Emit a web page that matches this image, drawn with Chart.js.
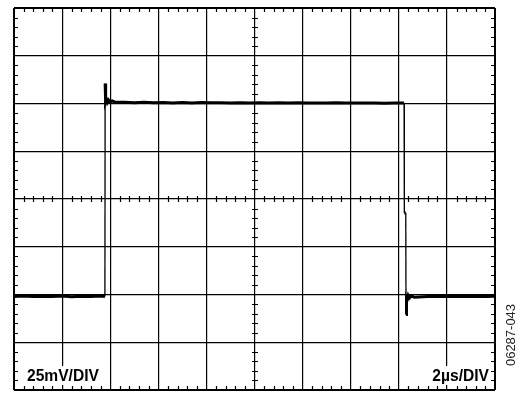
<!DOCTYPE html>
<html lang="en">
<head>
<meta charset="UTF-8">
<title>Scope capture</title>
<script src="https://cdn.jsdelivr.net/npm/chart.js@4.4.1/dist/chart.umd.min.js"></script>
<style>
    body { margin: 0; background: #fff; }
    #scope { display: block; }
</style>
</head>
<body>
<canvas id="scope" width="522" height="393"></canvas>
<script>
    // scope trace: time in µs, level in mV (2µs/DIV, 25mV/DIV)
    const timeUs = [
        0, 0.4, 0.8, 1.2, 1.6, 2.0, 2.4, 2.8, 3.2, 3.6, 3.78,
        3.79, 3.81, 3.84, 3.88, 3.93, 3.99, 4.08, 4.2,
        4.6, 5.0, 5.4, 5.8, 6.2, 6.6, 7.0, 7.4, 7.8, 8.2,
        8.6, 9.0, 9.4, 9.8, 10.2, 10.6, 11.0, 11.4, 11.8, 12.2,
        12.6, 13.0, 13.4, 13.8, 14.2, 14.6, 15.0, 15.4, 15.8, 16.1, 16.22,
        16.23, 16.29, 16.30, 16.32, 16.35, 16.39, 16.44, 16.52, 16.65,
        17.2, 17.6, 18.0, 18.4, 18.8, 19.2, 19.6, 20
    ];
    const levelMv = [
        -51, -50.8, -51.1, -50.9, -51.1, -50.8, -51.2, -50.9, -51.1, -50.8, -51.0,
        60.5, 51.2, 52.4, 50.6, 51.8, 50.8, 51.4, 50.7,
        50.6, 50.4, 50.6, 50.4, 50.5, 50.3, 50.5, 50.3, 50.5, 50.4,
        50.4, 50.2, 50.4, 50.3, 50.4, 50.2, 50.4, 50.3, 50.4, 50.2,
        50.3, 50.2, 50.4, 50.2, 50.3, 50.2, 50.3, 50.1, 50.3, 50.2, 50.2,
        -7.3, -7.3, -60.5, -51.8, -52.6, -50.6, -51.9, -50.8, -51.4,
        -51.1, -50.9, -51.1, -50.9, -51.0, -50.9, -51.1, -50.9
    ];
    const xRange = [0, 20];      // 10 divisions
    const yRange = [-100, 100];  // 8 divisions
    const xMajor = 2, yMajor = 25;
    const minorPerDiv = 5;
    const scaleLabels = ["25mV/DIV", "2µs/DIV"];
    const figureId = "06287-043";

    const points = timeUs.map((t, i) => ({ x: t, y: levelMv[i] }));

    const edgeWidth = (value, range) => (value === range[0] || value === range[1]) ? 2 : 1.2;

    const scopeMarks = {
        id: 'scopeMarks',
        afterDatasetsDraw(chart) {
            const { ctx, chartArea: a, scales: { x, y } } = chart;
            ctx.save();
            // white patches behind the scale labels
            ctx.fillStyle = '#fff';
            ctx.fillRect(a.left + 8, a.bottom - 24, 82, 19);
            ctx.fillRect(a.right - 76, a.bottom - 24, 72, 19);

            // minor graticule ticks
            ctx.strokeStyle = '#000';
            ctx.lineWidth = 1.2;
            ctx.beginPath();
            const x0 = Math.round(x.getPixelForValue((xRange[0] + xRange[1]) / 2));
            const y0 = Math.round(y.getPixelForValue(0));
            const xStep = xMajor / minorPerDiv, yStep = yMajor / minorPerDiv;
            const nx = Math.round((xRange[1] - xRange[0]) / xStep);
            for (let i = 1; i < nx; i++) {
                if (i % minorPerDiv === 0) continue;
                const px = Math.round(x.getPixelForValue(xRange[0] + i * xStep)) + 0.5;
                ctx.moveTo(px, a.top); ctx.lineTo(px, a.top + 4);
                ctx.moveTo(px, a.bottom); ctx.lineTo(px, a.bottom - 4);
                ctx.moveTo(px, y0 - 3); ctx.lineTo(px, y0 + 3);
            }
            const ny = Math.round((yRange[1] - yRange[0]) / yStep);
            for (let i = 1; i < ny; i++) {
                if (i % minorPerDiv === 0) continue;
                const py = Math.round(y.getPixelForValue(yRange[0] + i * yStep)) + 0.5;
                ctx.moveTo(a.left, py); ctx.lineTo(a.left + 4, py);
                ctx.moveTo(a.right, py); ctx.lineTo(a.right - 4, py);
                ctx.moveTo(x0 - 3, py); ctx.lineTo(x0 + 3, py);
            }
            ctx.stroke();

            // scale labels
            ctx.fillStyle = '#000';
            ctx.font = 'bold 15.6px "Liberation Sans", Arial, sans-serif';
            ctx.textBaseline = 'alphabetic';
            ctx.textAlign = 'left';
            ctx.fillText(scaleLabels[0], a.left + 13, a.bottom - 9);
            ctx.textAlign = 'right';
            ctx.fillText(scaleLabels[1], a.right - 6, a.bottom - 9);

            // figure id, rotated
            ctx.translate(chart.width - 11, a.bottom - 55);
            ctx.rotate(-Math.PI / 2);
            ctx.textAlign = 'center';
            ctx.textBaseline = 'middle';
            ctx.font = '13px "Liberation Sans", Arial, sans-serif';
            ctx.fillStyle = '#222';
            ctx.fillText(figureId, 0, 0);
            ctx.restore();
        }
    };

    const chart = new Chart(document.getElementById('scope').getContext('2d'), {
        type: 'line',
        data: {
            datasets: [{
                data: points,
                borderColor: '#000',
                borderWidth: 3,
                pointRadius: 0,
                tension: 0,
                segment: {
                    borderWidth: c => Math.abs(c.p1.parsed.y - c.p0.parsed.y) > 20 ? 1.3 : 3
                }
            }]
        },
        options: {
            responsive: false,
            animation: false,
            layout: { padding: { left: 14, top: 8, right: 27, bottom: 3 } },
            plugins: { legend: { display: false }, tooltip: { enabled: false } },
            scales: {
                x: {
                    type: 'linear', min: xRange[0], max: xRange[1],
                    ticks: { display: false, stepSize: xMajor },
                    grid: { color: '#000', drawTicks: false, lineWidth: c => edgeWidth(c.tick && c.tick.value, xRange) },
                    border: { display: false }
                },
                y: {
                    type: 'linear', min: yRange[0], max: yRange[1],
                    ticks: { display: false, stepSize: yMajor },
                    grid: { color: '#000', drawTicks: false, lineWidth: c => edgeWidth(c.tick && c.tick.value, yRange) },
                    border: { display: false }
                }
            }
        },
        plugins: [scopeMarks]
    });
</script>
</body>
</html>
